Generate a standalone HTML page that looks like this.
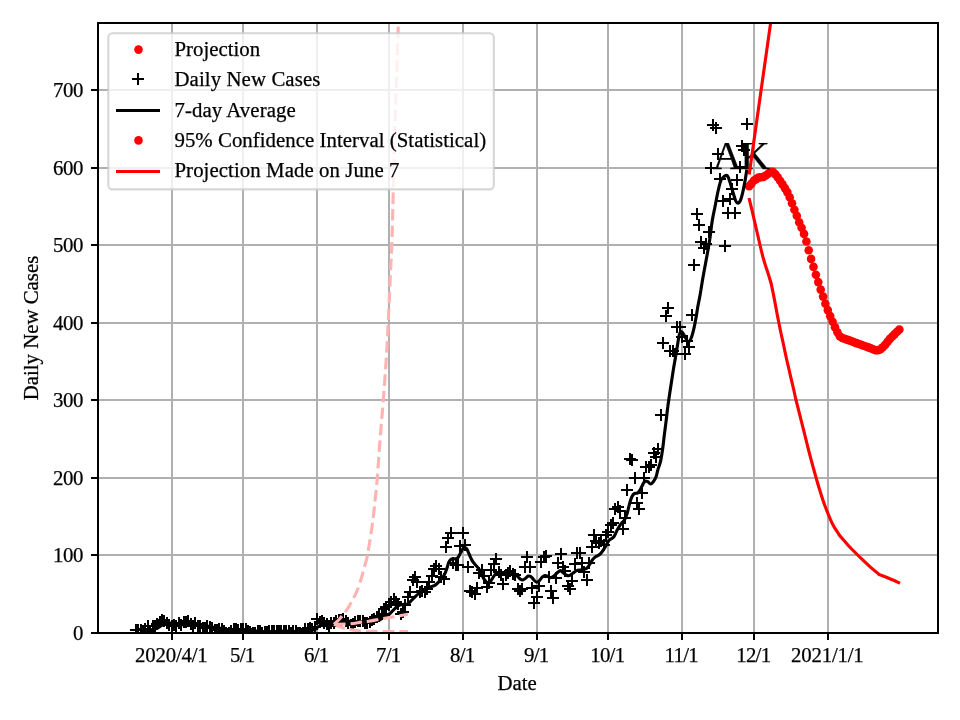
<!DOCTYPE html>
<html><head><meta charset="utf-8"><title>AK Daily New Cases</title>
<style>html,body{margin:0;padding:0;background:#fff}body{width:960px;height:720px;overflow:hidden}svg{display:block;will-change:transform}text{font-family:"Liberation Serif",serif;font-size:20.83px;fill:#000;stroke:#000;stroke-width:0.25px}</style></head><body>
<svg width="960" height="720" viewBox="0 0 960 720">
<rect width="960" height="720" fill="#fff"/>
<defs><clipPath id="ax"><rect x="98.00" y="23.00" width="840.00" height="610.00"/></clipPath>
<path id="pl" d="M-6 0H6M0 -6V6" stroke="#000" stroke-width="2" fill="none" shape-rendering="crispEdges"/>
<circle id="dt" r="4.3" fill="#f00"/></defs>
<path d="M172 23V633M243 23V633M317 23V633M389 23V633M463 23V633M537 23V633M608 23V633M682 23V633M754 23V633M828 23V633M98 633H938M98 555H938M98 478H938M98 400H938M98 323H938M98 245H938M98 168H938M98 90H938" stroke="#b0b0b0" stroke-width="2" fill="none" shape-rendering="crispEdges"/>
<g clip-path="url(#ax)">
<g><use href="#dt" x="749.1" y="186.2"/><use href="#dt" x="751.5" y="183.6"/><use href="#dt" x="753.9" y="180.5"/><use href="#dt" x="756.2" y="179.1"/><use href="#dt" x="758.6" y="177.6"/><use href="#dt" x="761.0" y="177.2"/><use href="#dt" x="763.4" y="176.9"/><use href="#dt" x="765.8" y="175.5"/><use href="#dt" x="768.2" y="173.8"/><use href="#dt" x="770.6" y="171.8"/><use href="#dt" x="772.9" y="171.7"/><use href="#dt" x="775.3" y="174.1"/><use href="#dt" x="777.7" y="177.2"/><use href="#dt" x="780.1" y="180.8"/><use href="#dt" x="782.5" y="184.4"/><use href="#dt" x="784.9" y="188.1"/><use href="#dt" x="787.3" y="192.1"/><use href="#dt" x="789.7" y="197.3"/><use href="#dt" x="792.0" y="203.2"/><use href="#dt" x="794.4" y="209.7"/><use href="#dt" x="796.8" y="215.8"/><use href="#dt" x="799.2" y="222.2"/><use href="#dt" x="801.6" y="227.7"/><use href="#dt" x="804.0" y="233.9"/><use href="#dt" x="806.4" y="241.5"/><use href="#dt" x="808.7" y="250.2"/><use href="#dt" x="811.1" y="258.9"/><use href="#dt" x="813.5" y="266.9"/><use href="#dt" x="815.9" y="274.7"/><use href="#dt" x="818.3" y="282.1"/><use href="#dt" x="820.7" y="289.6"/><use href="#dt" x="823.1" y="296.6"/><use href="#dt" x="825.4" y="303.7"/><use href="#dt" x="827.8" y="310.1"/><use href="#dt" x="830.2" y="316.1"/><use href="#dt" x="832.6" y="321.8"/><use href="#dt" x="835.0" y="327.3"/><use href="#dt" x="837.4" y="332.2"/><use href="#dt" x="839.8" y="336.3"/><use href="#dt" x="842.2" y="338.0"/><use href="#dt" x="844.5" y="338.8"/><use href="#dt" x="846.9" y="339.6"/><use href="#dt" x="849.3" y="340.4"/><use href="#dt" x="851.7" y="341.2"/><use href="#dt" x="854.1" y="342.2"/><use href="#dt" x="856.5" y="343.1"/><use href="#dt" x="858.9" y="344.0"/><use href="#dt" x="861.2" y="344.8"/><use href="#dt" x="863.6" y="345.7"/><use href="#dt" x="866.0" y="346.5"/><use href="#dt" x="868.4" y="347.4"/><use href="#dt" x="870.8" y="348.3"/><use href="#dt" x="873.2" y="349.3"/><use href="#dt" x="875.6" y="350.3"/><use href="#dt" x="877.9" y="350.1"/><use href="#dt" x="880.3" y="349.5"/><use href="#dt" x="882.7" y="347.3"/><use href="#dt" x="885.1" y="344.9"/><use href="#dt" x="887.5" y="341.9"/><use href="#dt" x="889.9" y="338.9"/><use href="#dt" x="892.3" y="336.5"/><use href="#dt" x="894.6" y="334.1"/><use href="#dt" x="897.0" y="331.8"/><use href="#dt" x="899.4" y="329.5"/></g>
<g><use href="#pl" x="136" y="630"/><use href="#pl" x="138" y="630"/><use href="#pl" x="141" y="630"/><use href="#pl" x="143" y="633"/><use href="#pl" x="145" y="629"/><use href="#pl" x="148" y="626"/><use href="#pl" x="150" y="631"/><use href="#pl" x="153" y="626"/><use href="#pl" x="155" y="626"/><use href="#pl" x="157" y="624"/><use href="#pl" x="160" y="622"/><use href="#pl" x="162" y="620"/><use href="#pl" x="164" y="621"/><use href="#pl" x="167" y="623"/><use href="#pl" x="169" y="625"/><use href="#pl" x="172" y="626"/><use href="#pl" x="174" y="625"/><use href="#pl" x="176" y="626"/><use href="#pl" x="179" y="623"/><use href="#pl" x="181" y="625"/><use href="#pl" x="184" y="622"/><use href="#pl" x="186" y="622"/><use href="#pl" x="188" y="621"/><use href="#pl" x="191" y="624"/><use href="#pl" x="193" y="626"/><use href="#pl" x="195" y="623"/><use href="#pl" x="198" y="626"/><use href="#pl" x="200" y="626"/><use href="#pl" x="203" y="628"/><use href="#pl" x="205" y="628"/><use href="#pl" x="207" y="626"/><use href="#pl" x="210" y="627"/><use href="#pl" x="212" y="628"/><use href="#pl" x="215" y="630"/><use href="#pl" x="217" y="630"/><use href="#pl" x="219" y="629"/><use href="#pl" x="222" y="629"/><use href="#pl" x="224" y="631"/><use href="#pl" x="226" y="633"/><use href="#pl" x="229" y="633"/><use href="#pl" x="231" y="631"/><use href="#pl" x="234" y="629"/><use href="#pl" x="236" y="629"/><use href="#pl" x="238" y="630"/><use href="#pl" x="241" y="629"/><use href="#pl" x="243" y="629"/><use href="#pl" x="246" y="629"/><use href="#pl" x="248" y="631"/><use href="#pl" x="250" y="632"/><use href="#pl" x="253" y="633"/><use href="#pl" x="255" y="633"/><use href="#pl" x="258" y="631"/><use href="#pl" x="260" y="631"/><use href="#pl" x="262" y="633"/><use href="#pl" x="265" y="632"/><use href="#pl" x="267" y="632"/><use href="#pl" x="269" y="631"/><use href="#pl" x="272" y="631"/><use href="#pl" x="274" y="631"/><use href="#pl" x="277" y="631"/><use href="#pl" x="279" y="631"/><use href="#pl" x="281" y="631"/><use href="#pl" x="284" y="631"/><use href="#pl" x="286" y="631"/><use href="#pl" x="289" y="631"/><use href="#pl" x="291" y="633"/><use href="#pl" x="293" y="631"/><use href="#pl" x="296" y="631"/><use href="#pl" x="298" y="633"/><use href="#pl" x="300" y="633"/><use href="#pl" x="303" y="633"/><use href="#pl" x="305" y="629"/><use href="#pl" x="308" y="629"/><use href="#pl" x="310" y="628"/><use href="#pl" x="312" y="629"/><use href="#pl" x="315" y="627"/><use href="#pl" x="317" y="619"/><use href="#pl" x="320" y="622"/><use href="#pl" x="322" y="621"/><use href="#pl" x="324" y="623"/><use href="#pl" x="327" y="624"/><use href="#pl" x="329" y="626"/><use href="#pl" x="331" y="623"/><use href="#pl" x="334" y="623"/><use href="#pl" x="336" y="621"/><use href="#pl" x="339" y="620"/><use href="#pl" x="341" y="620"/><use href="#pl" x="343" y="619"/><use href="#pl" x="346" y="621"/><use href="#pl" x="348" y="623"/><use href="#pl" x="351" y="625"/><use href="#pl" x="353" y="624"/><use href="#pl" x="355" y="622"/><use href="#pl" x="358" y="621"/><use href="#pl" x="360" y="621"/><use href="#pl" x="363" y="621"/><use href="#pl" x="365" y="623"/><use href="#pl" x="367" y="623"/><use href="#pl" x="370" y="622"/><use href="#pl" x="372" y="620"/><use href="#pl" x="374" y="619"/><use href="#pl" x="377" y="617"/><use href="#pl" x="379" y="616"/><use href="#pl" x="382" y="614"/><use href="#pl" x="384" y="609"/><use href="#pl" x="386" y="607"/><use href="#pl" x="389" y="605"/><use href="#pl" x="391" y="602"/><use href="#pl" x="394" y="599"/><use href="#pl" x="396" y="602"/><use href="#pl" x="398" y="604"/><use href="#pl" x="401" y="614"/><use href="#pl" x="403" y="612"/><use href="#pl" x="405" y="605"/><use href="#pl" x="408" y="597"/><use href="#pl" x="410" y="592"/><use href="#pl" x="413" y="580"/><use href="#pl" x="415" y="577"/><use href="#pl" x="417" y="582"/><use href="#pl" x="420" y="592"/><use href="#pl" x="422" y="591"/><use href="#pl" x="425" y="592"/><use href="#pl" x="427" y="589"/><use href="#pl" x="429" y="582"/><use href="#pl" x="432" y="576"/><use href="#pl" x="434" y="569"/><use href="#pl" x="436" y="566"/><use href="#pl" x="439" y="569"/><use href="#pl" x="441" y="577"/><use href="#pl" x="444" y="579"/><use href="#pl" x="446" y="547"/><use href="#pl" x="448" y="538"/><use href="#pl" x="451" y="533"/><use href="#pl" x="453" y="563"/><use href="#pl" x="456" y="565"/><use href="#pl" x="458" y="565"/><use href="#pl" x="460" y="546"/><use href="#pl" x="463" y="533"/><use href="#pl" x="465" y="545"/><use href="#pl" x="468" y="567"/><use href="#pl" x="470" y="591"/><use href="#pl" x="472" y="592"/><use href="#pl" x="475" y="594"/><use href="#pl" x="477" y="588"/><use href="#pl" x="479" y="573"/><use href="#pl" x="482" y="570"/><use href="#pl" x="484" y="576"/><use href="#pl" x="487" y="587"/><use href="#pl" x="489" y="583"/><use href="#pl" x="491" y="570"/><use href="#pl" x="494" y="564"/><use href="#pl" x="496" y="559"/><use href="#pl" x="499" y="572"/><use href="#pl" x="501" y="575"/><use href="#pl" x="503" y="584"/><use href="#pl" x="506" y="575"/><use href="#pl" x="508" y="573"/><use href="#pl" x="510" y="571"/><use href="#pl" x="513" y="574"/><use href="#pl" x="515" y="575"/><use href="#pl" x="518" y="589"/><use href="#pl" x="520" y="591"/><use href="#pl" x="522" y="589"/><use href="#pl" x="525" y="567"/><use href="#pl" x="527" y="557"/><use href="#pl" x="530" y="567"/><use href="#pl" x="532" y="588"/><use href="#pl" x="534" y="603"/><use href="#pl" x="537" y="597"/><use href="#pl" x="539" y="586"/><use href="#pl" x="541" y="562"/><use href="#pl" x="544" y="557"/><use href="#pl" x="546" y="556"/><use href="#pl" x="549" y="577"/><use href="#pl" x="551" y="591"/><use href="#pl" x="553" y="598"/><use href="#pl" x="556" y="578"/><use href="#pl" x="558" y="563"/><use href="#pl" x="561" y="554"/><use href="#pl" x="563" y="567"/><use href="#pl" x="565" y="571"/><use href="#pl" x="568" y="586"/><use href="#pl" x="570" y="589"/><use href="#pl" x="572" y="581"/><use href="#pl" x="575" y="564"/><use href="#pl" x="577" y="553"/><use href="#pl" x="580" y="553"/><use href="#pl" x="582" y="563"/><use href="#pl" x="584" y="572"/><use href="#pl" x="587" y="580"/><use href="#pl" x="589" y="563"/><use href="#pl" x="592" y="547"/><use href="#pl" x="594" y="535"/><use href="#pl" x="596" y="541"/><use href="#pl" x="599" y="543"/><use href="#pl" x="601" y="541"/><use href="#pl" x="604" y="545"/><use href="#pl" x="606" y="535"/><use href="#pl" x="608" y="532"/><use href="#pl" x="611" y="525"/><use href="#pl" x="613" y="523"/><use href="#pl" x="615" y="509"/><use href="#pl" x="618" y="507"/><use href="#pl" x="620" y="511"/><use href="#pl" x="623" y="529"/><use href="#pl" x="625" y="518"/><use href="#pl" x="627" y="490"/><use href="#pl" x="630" y="459"/><use href="#pl" x="632" y="460"/><use href="#pl" x="635" y="478"/><use href="#pl" x="637" y="503"/><use href="#pl" x="639" y="509"/><use href="#pl" x="642" y="493"/><use href="#pl" x="644" y="478"/><use href="#pl" x="646" y="467"/><use href="#pl" x="649" y="467"/><use href="#pl" x="651" y="465"/><use href="#pl" x="654" y="453"/><use href="#pl" x="656" y="457"/><use href="#pl" x="658" y="449"/><use href="#pl" x="661" y="415"/><use href="#pl" x="663" y="343"/><use href="#pl" x="666" y="316"/><use href="#pl" x="668" y="308"/><use href="#pl" x="670" y="351"/><use href="#pl" x="673" y="351"/><use href="#pl" x="675" y="354"/><use href="#pl" x="677" y="327"/><use href="#pl" x="680" y="327"/><use href="#pl" x="682" y="337"/><use href="#pl" x="685" y="354"/><use href="#pl" x="687" y="341"/><use href="#pl" x="689" y="347"/><use href="#pl" x="692" y="315"/><use href="#pl" x="694" y="265"/><use href="#pl" x="697" y="214"/><use href="#pl" x="699" y="225"/><use href="#pl" x="701" y="242"/><use href="#pl" x="704" y="248"/><use href="#pl" x="706" y="244"/><use href="#pl" x="709" y="232"/><use href="#pl" x="711" y="168"/><use href="#pl" x="713" y="125"/><use href="#pl" x="716" y="128"/><use href="#pl" x="718" y="154"/><use href="#pl" x="720" y="179"/><use href="#pl" x="723" y="201"/><use href="#pl" x="725" y="246"/><use href="#pl" x="728" y="213"/><use href="#pl" x="730" y="199"/><use href="#pl" x="732" y="189"/><use href="#pl" x="735" y="213"/><use href="#pl" x="737" y="180"/><use href="#pl" x="740" y="167"/><use href="#pl" x="742" y="146"/><use href="#pl" x="744" y="150"/><use href="#pl" x="747" y="124"/></g>
<path d="M135.8 629.6C136.2 629.6 137.4 629.6 138.2 629.6C139.0 629.6 139.8 629.5 140.6 629.6C141.4 629.8 142.2 630.3 143.0 630.4C143.8 630.5 144.6 630.3 145.4 630.2C146.1 630.1 146.9 629.6 147.7 629.6C148.5 629.5 149.3 629.9 150.1 629.9C150.9 629.8 151.7 629.6 152.5 629.4C153.3 629.2 154.1 629.2 154.9 628.9C155.7 628.7 156.5 628.5 157.3 628.1C158.1 627.7 158.9 627.1 159.7 626.6C160.5 626.1 161.3 625.6 162.1 625.2C162.9 624.9 163.6 624.8 164.4 624.5C165.2 624.2 166.0 623.6 166.8 623.4C167.6 623.1 168.4 623.2 169.2 623.2C170.0 623.2 170.8 623.1 171.6 623.2C172.4 623.2 173.2 623.2 174.0 623.3C174.8 623.4 175.6 623.6 176.4 623.8C177.2 624.0 178.0 624.2 178.8 624.4C179.6 624.6 180.3 624.9 181.1 624.9C181.9 625.0 182.7 624.9 183.5 624.8C184.3 624.7 185.1 624.5 185.9 624.3C186.7 624.2 187.5 623.8 188.3 623.7C189.1 623.6 189.9 623.7 190.7 623.7C191.5 623.7 192.3 623.6 193.1 623.6C193.9 623.6 194.7 623.6 195.5 623.6C196.3 623.6 197.1 623.6 197.8 623.7C198.6 623.8 199.4 624.0 200.2 624.2C201.0 624.4 201.8 624.7 202.6 624.9C203.4 625.2 204.2 625.6 205.0 625.8C205.8 626.0 206.6 626.0 207.4 626.1C208.2 626.2 209.0 626.2 209.8 626.3C210.6 626.5 211.4 626.8 212.2 627.0C213.0 627.2 213.8 627.4 214.6 627.6C215.3 627.8 216.1 628.0 216.9 628.1C217.7 628.3 218.5 628.2 219.3 628.3C220.1 628.3 220.9 628.3 221.7 628.4C222.5 628.6 223.3 628.8 224.1 629.0C224.9 629.3 225.7 629.6 226.5 629.8C227.3 630.1 228.1 630.3 228.9 630.5C229.7 630.6 230.5 630.7 231.3 630.7C232.1 630.7 232.8 630.6 233.6 630.6C234.4 630.5 235.2 630.5 236.0 630.6C236.8 630.6 237.6 630.7 238.4 630.7C239.2 630.7 240.0 630.6 240.8 630.4C241.6 630.3 242.4 630.1 243.2 629.9C244.0 629.7 244.8 629.4 245.6 629.3C246.4 629.2 247.2 629.2 248.0 629.3C248.8 629.4 249.6 629.6 250.3 629.7C251.1 629.9 251.9 630.2 252.7 630.3C253.5 630.5 254.3 630.6 255.1 630.8C255.9 630.9 256.7 631.0 257.5 631.1C258.3 631.3 259.1 631.4 259.9 631.5C260.7 631.7 261.5 632.0 262.3 632.1C263.1 632.2 263.9 632.2 264.7 632.2C265.5 632.2 266.3 632.3 267.1 632.3C267.8 632.2 268.6 632.1 269.4 632.1C270.2 632.0 271.0 631.9 271.8 631.9C272.6 631.9 273.4 631.9 274.2 631.9C275.0 631.9 275.8 631.8 276.6 631.8C277.4 631.7 278.2 631.5 279.0 631.5C279.8 631.4 280.6 631.3 281.4 631.3C282.2 631.2 283.0 631.1 283.8 631.1C284.6 631.1 285.3 631.1 286.1 631.1C286.9 631.1 287.7 631.1 288.5 631.1C289.3 631.1 290.1 631.2 290.9 631.3C291.7 631.3 292.5 631.4 293.3 631.4C294.1 631.5 294.9 631.5 295.7 631.5C296.5 631.6 297.3 631.7 298.1 631.8C298.9 631.9 299.7 632.0 300.5 632.0C301.3 632.1 302.1 632.2 302.8 632.2C303.6 632.2 304.4 632.0 305.2 631.8C306.0 631.6 306.8 631.4 307.6 631.2C308.4 631.0 309.2 630.8 310.0 630.6C310.8 630.5 311.6 630.5 312.4 630.3C313.2 630.1 314.0 629.9 314.8 629.4C315.6 628.9 316.4 628.0 317.2 627.4C318.0 626.8 318.8 626.3 319.6 625.8C320.3 625.4 321.1 625.0 321.9 624.7C322.7 624.4 323.5 624.2 324.3 624.0C325.1 623.8 325.9 623.6 326.7 623.5C327.5 623.3 328.3 623.2 329.1 623.0C329.9 622.9 330.7 622.5 331.5 622.6C332.3 622.6 333.1 623.2 333.9 623.3C334.7 623.4 335.5 623.1 336.3 623.1C337.1 623.0 337.8 623.1 338.6 623.0C339.4 622.9 340.2 622.7 341.0 622.4C341.8 622.2 342.6 621.9 343.4 621.6C344.2 621.4 345.0 621.1 345.8 621.0C346.6 620.9 347.4 620.9 348.2 621.0C349.0 621.0 349.8 621.1 350.6 621.2C351.4 621.4 352.2 621.6 353.0 621.7C353.8 621.8 354.5 621.9 355.3 622.0C356.1 622.0 356.9 622.0 357.7 622.1C358.5 622.2 359.3 622.4 360.1 622.4C360.9 622.5 361.7 622.4 362.5 622.4C363.3 622.4 364.1 622.4 364.9 622.3C365.7 622.3 366.5 622.1 367.3 622.0C368.1 621.9 368.9 621.9 369.7 621.8C370.5 621.7 371.3 621.6 372.0 621.5C372.8 621.5 373.6 621.4 374.4 621.2C375.2 621.1 376.0 621.0 376.8 620.8C377.6 620.6 378.4 620.4 379.2 620.1C380.0 619.7 380.8 619.2 381.6 618.7C382.4 618.1 382.8 617.4 384.0 616.7C385.2 616.1 386.7 616.3 388.8 614.7C390.9 613.1 394.2 608.9 396.3 607.2C398.4 605.5 399.4 605.3 401.3 604.7C403.2 604.1 406.1 604.8 408.0 603.8C409.9 602.8 411.2 600.5 413.0 598.8C414.8 597.1 417.3 594.7 418.8 593.4C420.3 592.1 420.5 592.1 422.2 591.1C423.9 590.1 426.9 588.1 428.9 587.2C430.9 586.3 432.7 586.5 434.4 585.6C436.1 584.7 437.3 583.4 438.9 581.7C440.5 580.0 442.6 577.7 443.9 575.6C445.2 573.5 445.9 571.1 446.7 568.9C447.5 566.7 448.1 563.9 448.9 562.2C449.7 560.5 450.6 559.5 451.7 558.9C452.8 558.3 454.6 559.1 455.6 558.9C456.6 558.7 457.0 558.8 457.8 557.8C458.6 556.8 459.6 554.5 460.6 552.8C461.6 551.1 462.9 548.0 463.9 547.4C464.9 546.8 466.0 548.1 466.7 548.9C467.4 549.7 467.8 551.0 468.3 552.2C468.9 553.4 469.4 554.7 470.0 556.1C470.6 557.5 471.4 559.2 472.2 560.6C473.0 562.0 473.9 563.0 475.0 564.4C476.1 565.8 478.0 567.5 478.9 568.9C479.8 570.2 479.8 570.8 480.6 572.5C481.4 574.2 482.8 577.2 483.9 578.9C485.0 580.6 486.2 582.2 487.2 582.8C488.2 583.3 489.1 583.0 490.0 582.2C490.9 581.4 491.7 579.4 492.8 577.8C493.9 576.2 495.4 573.4 496.7 572.8C498.0 572.1 499.2 573.6 500.6 573.9C502.0 574.2 503.5 574.6 505.0 574.4C506.5 574.2 507.9 572.9 509.4 572.8C510.9 572.7 512.6 573.3 513.9 573.9C515.2 574.5 516.2 575.3 517.2 576.1C518.2 576.9 519.1 578.2 520.0 578.9C520.9 579.5 521.9 580.1 522.8 580.0C523.7 579.9 524.7 578.9 525.6 578.3C526.5 577.6 527.4 576.4 528.3 576.1C529.2 575.8 530.2 576.1 531.1 576.7C532.0 577.4 533.0 579.1 533.9 580.0C534.8 580.9 535.8 582.1 536.7 582.2C537.6 582.3 538.5 581.4 539.4 580.6C540.3 579.8 541.3 578.0 542.2 577.2C543.1 576.4 544.2 575.8 545.0 575.6C545.8 575.4 546.3 575.7 547.2 576.1C548.1 576.5 549.5 577.8 550.6 577.8C551.7 577.8 552.8 576.9 553.9 576.1C555.0 575.3 556.1 573.7 557.2 572.8C558.3 571.9 559.6 570.6 560.6 570.6C561.6 570.6 562.4 572.1 563.3 572.8C564.2 573.5 565.1 574.5 566.1 575.0C567.1 575.5 568.3 575.9 569.4 575.6C570.5 575.3 571.6 574.1 572.8 573.3C574.0 572.5 575.4 571.1 576.7 570.6C578.0 570.1 579.4 570.2 580.6 570.0C581.8 569.8 582.8 569.8 583.9 569.4C585.0 569.0 586.2 568.7 587.2 567.8C588.2 566.9 589.1 565.3 590.0 563.9C590.9 562.5 591.9 560.6 592.8 559.4C593.7 558.2 594.6 557.4 595.6 556.7C596.6 556.0 597.9 555.8 598.9 555.0C599.9 554.2 600.8 553.3 601.7 552.2C602.6 551.1 603.5 549.8 604.4 548.3C605.3 546.8 606.4 544.7 607.2 543.3C608.0 541.9 608.3 541.1 609.4 540.0C610.5 538.9 612.6 538.4 613.9 536.7C615.2 535.0 616.1 532.0 617.2 530.0C618.3 528.0 619.4 526.1 620.6 524.4C621.8 522.7 623.3 521.9 624.4 520.0C625.5 518.1 626.4 515.9 627.2 513.3C628.0 510.7 628.6 507.1 629.4 504.4C630.1 501.7 631.0 498.9 631.7 497.2C632.5 495.4 632.9 494.6 633.9 493.9C634.9 493.2 636.8 493.4 637.8 492.8C638.8 492.2 639.2 491.4 640.0 490.0C640.8 488.6 642.0 485.9 642.8 484.4C643.6 482.9 644.2 481.6 645.0 481.1C645.8 480.7 646.9 481.2 647.8 481.7C648.7 482.2 649.7 483.9 650.6 483.9C651.5 483.9 652.4 482.9 653.3 481.7C654.2 480.5 655.4 478.6 656.1 476.7C656.9 474.8 657.0 472.6 657.8 470.0C658.5 467.4 659.8 464.8 660.6 461.1C661.4 457.4 662.2 452.2 662.8 447.8C663.4 443.4 663.8 438.8 664.4 434.4C665.0 429.9 665.5 425.7 666.1 421.1C666.7 416.5 667.2 410.9 667.8 406.7C668.3 402.4 668.5 401.7 669.4 395.6C670.3 389.5 672.3 376.5 673.3 370.0C674.3 363.5 674.9 361.1 675.6 356.7C676.4 352.2 677.2 347.0 677.8 343.3C678.4 339.6 678.8 336.3 679.4 334.4C680.0 332.5 680.9 331.5 681.7 331.7C682.5 331.9 683.4 333.9 684.4 335.6C685.4 337.3 686.8 341.1 687.8 341.7C688.8 342.3 689.7 341.2 690.6 339.4C691.5 337.6 692.5 334.3 693.3 331.1C694.1 327.9 694.9 324.1 695.6 320.0C696.4 315.9 697.1 310.8 697.8 306.7C698.5 302.6 699.5 298.4 700.0 295.6C700.5 292.8 700.2 293.9 700.9 290.0C701.5 286.1 702.8 278.1 703.9 272.2C705.0 266.3 706.2 260.1 707.2 254.4C708.2 248.7 709.2 243.4 710.0 237.8C710.8 232.2 711.4 226.3 712.2 221.1C713.0 215.9 714.0 211.9 715.0 206.7C716.0 201.5 717.3 194.4 718.3 190.0C719.3 185.6 720.2 182.2 721.1 180.0C722.0 177.8 722.9 177.4 723.9 176.7C724.9 176.0 726.2 174.7 727.2 175.6C728.2 176.5 729.0 179.2 730.0 182.2C731.0 185.1 732.4 190.2 733.3 193.3C734.2 196.4 734.9 198.9 735.6 200.6C736.4 202.3 737.0 203.4 737.8 203.3C738.6 203.2 739.8 201.8 740.6 200.0C741.4 198.2 742.1 195.3 742.8 192.2C743.5 189.0 744.3 184.9 745.0 181.1C745.7 177.3 746.5 171.4 746.8 169.5" stroke="#000" stroke-width="3.125" fill="none" stroke-linejoin="round" stroke-linecap="butt"/>
</g>
<text y="169.10" style="font-size:40.60px"><tspan x="712.40">A</tspan><tspan x="740.20" style="font-size:40.90px">K</tspan></text>
<g clip-path="url(#ax)">
<path d="M749.2 174.5C750.7 163.8 754.7 135.2 758.3 110.0C761.9 84.8 768.1 40.4 770.6 23.1C773.1 5.8 772.6 8.8 773.0 6.0" stroke="#f00" stroke-width="3.125" fill="none" stroke-linejoin="round" stroke-linecap="butt"/>
<path d="M749.0 198.0C749.6 200.4 751.3 207.4 752.5 212.5C753.7 217.6 755.0 223.1 756.2 228.5C757.5 233.9 758.8 239.8 760.0 245.0C761.2 250.2 762.5 255.6 763.8 260.0C765.0 264.4 766.2 267.5 767.5 271.5C768.8 275.5 770.6 281.7 771.2 283.8C771.9 285.8 770.6 280.6 771.2 283.8C771.9 286.9 773.8 296.0 775.0 302.5C776.2 309.0 777.5 316.2 778.8 322.5C780.0 328.8 781.2 334.2 782.5 340.0C783.8 345.8 785.0 351.9 786.2 357.5C787.5 363.1 788.8 368.3 790.0 373.8C791.2 379.2 792.8 385.6 793.8 390.0C794.8 394.4 794.6 394.4 796.0 400.0C797.4 405.6 799.9 415.5 801.9 423.3C803.9 431.1 805.8 439.2 807.7 446.7C809.6 454.2 811.5 461.4 813.5 468.5C815.5 475.6 817.4 482.7 819.4 489.0C821.4 495.3 823.0 500.7 825.2 506.5C827.4 512.3 830.1 519.1 832.5 524.0C834.9 528.9 838.6 533.7 839.8 535.6C841.0 537.5 838.1 533.7 839.8 535.6C841.5 537.5 846.6 543.6 850.0 547.3C853.4 550.9 856.8 554.2 860.2 557.5C863.6 560.8 867.2 564.3 870.4 567.1C873.6 569.9 877.7 573.2 879.2 574.4C880.7 575.6 877.5 573.7 879.2 574.4C880.9 575.1 885.9 577.0 889.4 578.5C892.9 580.0 898.2 582.4 900.0 583.2" stroke="#f00" stroke-width="3.125" fill="none" stroke-linejoin="round" stroke-linecap="butt"/>
<path d="M334.0 624.3C334.9 623.4 337.7 621.0 339.5 619.0C341.3 617.0 343.3 614.8 345.0 612.5C346.7 610.2 348.0 608.0 349.5 605.5C351.0 603.0 352.4 600.1 353.8 597.5C355.1 594.9 356.1 593.1 357.3 590.0C358.6 586.9 360.2 581.9 361.2 578.8C362.2 575.6 362.4 574.5 363.3 571.0C364.2 567.5 366.1 561.5 366.9 558.0C367.7 554.5 367.6 553.8 368.3 550.0C369.0 546.2 370.0 540.5 370.8 535.0C371.6 529.5 372.6 522.9 373.3 516.7C374.1 510.5 374.6 504.5 375.3 498.0C376.0 491.5 376.5 487.4 377.3 477.7C378.1 468.0 379.0 452.9 380.0 440.0C381.0 427.1 382.2 414.2 383.3 400.0C384.4 385.8 385.7 367.8 386.5 355.0C387.3 342.2 387.7 335.0 388.2 323.0C388.8 311.0 389.4 296.8 390.0 283.0C390.6 269.2 391.5 255.0 392.0 240.0C392.5 225.0 392.8 209.7 393.2 193.0C393.7 176.3 394.1 155.1 394.5 140.0C394.9 124.9 395.3 115.0 395.8 102.5C396.2 90.0 396.6 78.4 397.0 65.0C397.4 51.6 397.9 36.2 398.4 22.0C398.9 7.8 399.7 -13.0 400.0 -20.0" stroke="#ffb3b3" stroke-width="3.125" stroke-dasharray="11.56 5" fill="none" stroke-linejoin="round"/>
<path d="M334.0 624.3C336.8 624.2 345.9 624.1 350.5 623.7C355.1 623.3 358.2 622.5 361.3 622.1C364.4 621.7 365.5 621.8 368.8 621.3C372.1 620.8 377.1 619.6 381.3 618.9C385.5 618.1 389.4 617.6 393.8 616.8C398.2 616.0 405.6 614.7 408.0 614.3" stroke="#ffb3b3" stroke-width="3.125" stroke-dasharray="11.56 5" fill="none" stroke-linejoin="round"/>
<path d="M334.0 624.3C334.7 624.6 336.7 625.5 338.0 626.0C339.3 626.5 340.7 627.0 342.0 627.5C343.3 628.0 344.5 628.4 346.0 628.8C347.5 629.2 349.3 629.5 351.0 629.8C352.7 630.1 354.2 630.3 356.0 630.5C357.8 630.7 359.2 630.9 362.0 631.0C364.8 631.1 365.3 631.3 373.0 631.4C380.7 631.5 402.2 631.6 408.0 631.6" stroke="#ffb3b3" stroke-width="3.125" stroke-dasharray="11.56 5" fill="none" stroke-linejoin="round"/>
</g>
<path d="M98 22V634M938 22V634M97 23H939M97 633H939" fill="none" stroke="#000" stroke-width="2" shape-rendering="crispEdges"/>
<path d="M172 633v7M243 633v7M317 633v7M389 633v7M463 633v7M537 633v7M608 633v7M682 633v7M754 633v7M828 633v7M98 633h-7M98 555h-7M98 478h-7M98 400h-7M98 323h-7M98 245h-7M98 168h-7M98 90h-7" stroke="#000" stroke-width="2" fill="none" shape-rendering="crispEdges"/>
<text x="171.30" y="662.00" text-anchor="middle" style="letter-spacing:-0.20px">2020/4/1</text>
<text x="242.30" y="662.00" text-anchor="middle" style="letter-spacing:-0.70px">5/1</text>
<text x="316.30" y="662.00" text-anchor="middle" style="letter-spacing:-0.70px">6/1</text>
<text x="388.30" y="662.00" text-anchor="middle" style="letter-spacing:-0.70px">7/1</text>
<text x="462.30" y="662.00" text-anchor="middle" style="letter-spacing:-0.70px">8/1</text>
<text x="536.30" y="662.00" text-anchor="middle" style="letter-spacing:-0.70px">9/1</text>
<text x="607.30" y="662.00" text-anchor="middle" style="letter-spacing:-0.70px">10/1</text>
<text x="681.30" y="662.00" text-anchor="middle" style="letter-spacing:-0.70px">11/1</text>
<text x="753.30" y="662.00" text-anchor="middle" style="letter-spacing:-0.70px">12/1</text>
<text x="827.30" y="662.00" text-anchor="middle" style="letter-spacing:-0.20px">2021/1/1</text>
<text x="83.00" y="640.40" text-anchor="end" style="letter-spacing:-0.4px">0</text>
<text x="83.00" y="562.40" text-anchor="end" style="letter-spacing:-0.4px">100</text>
<text x="83.00" y="485.40" text-anchor="end" style="letter-spacing:-0.4px">200</text>
<text x="83.00" y="407.40" text-anchor="end" style="letter-spacing:-0.4px">300</text>
<text x="83.00" y="330.40" text-anchor="end" style="letter-spacing:-0.4px">400</text>
<text x="83.00" y="252.40" text-anchor="end" style="letter-spacing:-0.4px">500</text>
<text x="83.00" y="175.40" text-anchor="end" style="letter-spacing:-0.4px">600</text>
<text x="83.00" y="97.40" text-anchor="end" style="letter-spacing:-0.4px">700</text>
<text x="517.20" y="690.00" text-anchor="middle">Date</text>
<text transform="translate(38.00 328.00) rotate(-90)" text-anchor="middle">Daily New Cases</text>
<rect x="108.30" y="33.20" width="385.50" height="156.20" rx="4.2" ry="4.2" fill="#fff" fill-opacity="0.8" stroke="#ccc" stroke-opacity="0.8" stroke-width="2.08"/>
<use href="#dt" x="138.5" y="49.6"/>
<use href="#pl" x="138" y="79"/>
<path d="M116 110.5H160" stroke="#000" stroke-width="3" shape-rendering="crispEdges"/>
<use href="#dt" x="138.5" y="140.4"/>
<path d="M116 171.5H160" stroke="#f00" stroke-width="3" shape-rendering="crispEdges"/>
<text x="174.47" y="55.90" style="letter-spacing:0.00px">Projection</text>
<text x="174.47" y="86.25" style="letter-spacing:0.09px">Daily New Cases</text>
<text x="174.47" y="116.60" style="letter-spacing:0.06px">7-day Average</text>
<text x="174.47" y="146.95" style="letter-spacing:0.03px">95% Confidence Interval (Statistical)</text>
<text x="174.47" y="177.30" style="letter-spacing:0.07px">Projection Made on June 7</text>
</svg></body></html>
